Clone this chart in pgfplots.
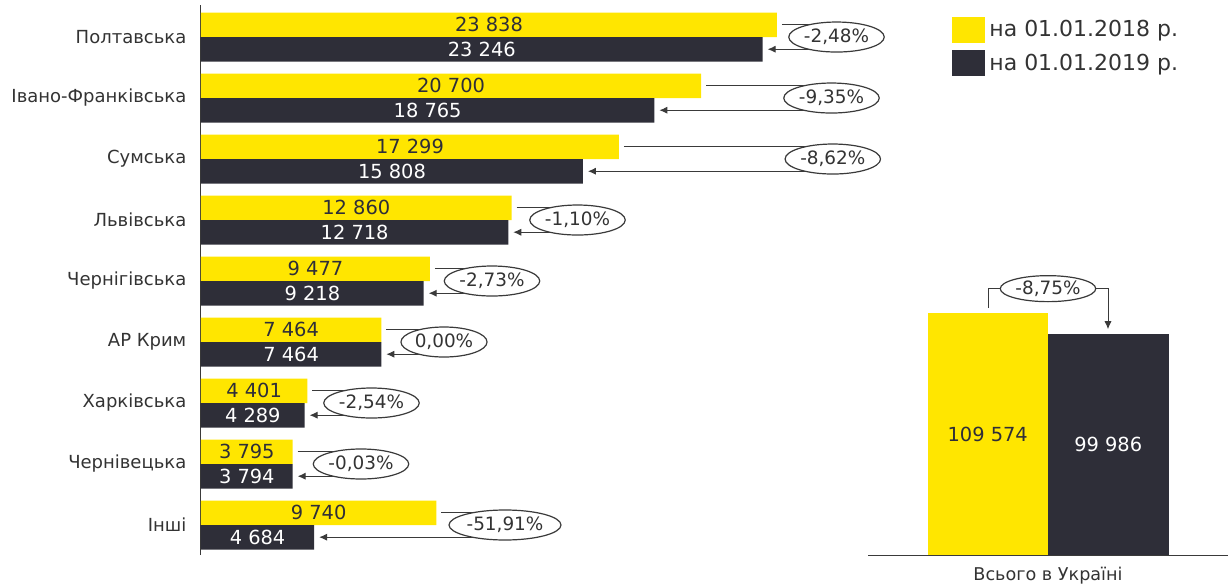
\documentclass[border=0pt]{standalone}
\usepackage{pgfplots}
\pgfplotsset{compat=1.18}
\usepackage{pgfplotstable}
\usepackage{fontspec}
\setmainfont{DejaVu Sans}
\usetikzlibrary{shapes.geometric, arrows.meta}
\definecolor{eyyellow}{HTML}{FFE600}
\definecolor{eydark}{HTML}{2E2E38}
\definecolor{txt}{HTML}{333333}
\definecolor{ln}{HTML}{3A3A3A}

\pgfplotstableread{
k a b
8 23838 23246
7 20700 18765
6 17299 15808
5 12860 12718
4 9477 9218
3 7464 7464
2 4401 4289
1 3795 3794
0 9740 4684
}\regions

\tikzset{
  pct/.style={ellipse, draw=ln, line width=0.6pt, fill=white, inner xsep=0.6pt, inner ysep=0pt,
    minimum height=15pt, font=\fontsize{9.2}{10}\selectfont, text=txt},
  cl/.style={draw=ln, line width=0.5pt},
  ca/.style={draw=ln, line width=0.5pt, -{Latex[length=4pt,width=3.6pt]}},
}
\newcommand\ann[7]{%
  \draw[cl] (axis cs:#2,#1) -- (axis cs:#4,#1);
  \draw[ca] (axis cs:#4,#6) -- (axis cs:#3,#6);
  \node[pct] at (axis cs:#4,#7) {#5};
}
\pgfplotsset{numfmt/.style={
  /pgf/number format/assume math mode=true,
  /pgf/number format/fixed,
  /pgf/number format/precision=0,
  /pgf/number format/1000 sep={\ },
}}

\begin{document}
\begin{tikzpicture}
\useasboundingbox (0,0) rectangle (615pt,293pt);
\begin{axis}[
  at={(100.5pt,15.5pt)}, anchor=south west,
  scale only axis, width=349.5pt, height=275pt,
  xmin=0, xmax=28932, ymin=-0.492, ymax=8.525,
  axis x line=none, axis y line=left,
  axis line style={-, draw=ln, line width=0.5pt},
  xtick=\empty, ytick={0,...,8},
  yticklabels={Інші, Чернівецька, Харківська, АР Крим, Чернігівська, Львівська, Сумська, Івано-Франківська, Полтавська},
  ytick style={draw=none},
  yticklabel style={font=\fontsize{9}{10}\selectfont, text=txt, inner sep=0pt, anchor=east, xshift=-5pt},
  clip=false, numfmt,
]
\addplot[xbar, bar width=12.25pt, bar shift=6.125pt, fill=eyyellow, draw=none] table[x=a, y=k]{\regions};
\addplot[xbar, bar width=12.25pt, bar shift=-6.125pt, fill=eydark, draw=none] table[x=b, y=k]{\regions};
\addplot[draw=none, mark=none, nodes near coords, point meta=explicit,
  every node near coord/.append style={anchor=center, yshift=6.125pt, font=\fontsize{9.7}{10}\selectfont, text=eydark}]
  table[x expr=\thisrow{a}/2, y=k, meta=a]{\regions};
\addplot[draw=none, mark=none, nodes near coords, point meta=explicit,
  every node near coord/.append style={anchor=center, yshift=-6.125pt, font=\fontsize{9.7}{10}\selectfont, text=white}]
  table[x expr=\thisrow{b}/2, y=k, meta=b]{\regions};
% change annotations: y-top, line start, arrow tip, ellipse x, text, y-bottom, y-centre
\ann{8.2}{24045}{23453}{26304}{-2,48\%}{7.8}{8}
\ann{7.2}{20907}{18972}{26097}{-9,35\%}{6.8}{7}
\ann{6.2}{17506}{16015}{26150}{-8,62\%}{5.8}{6}
\ann{5.2}{13067}{12925}{15584}{-1,10\%}{4.8}{5}
\ann{4.2}{9684}{9425}{12045}{-2,73\%}{3.8}{4}
\ann{3.2}{7671}{7671}{10058}{0,00\%}{2.8}{3}
\ann{2.2}{4608}{4496}{7057}{-2,54\%}{1.8}{2}
\ann{1.2}{4002}{4001}{6623}{-0,03\%}{0.8}{1}
\ann{0.2}{9947}{4891}{12583}{-51,91\%}{-0.2}{0}
\end{axis}

\begin{axis}[
  at={(434pt,15.5pt)}, anchor=south west,
  scale only axis, width=180pt, height=137.5pt,
  xmin=-1, xmax=1, ymin=0, ymax=124513,
  axis y line=none, axis x line=bottom,
  axis line style={-, draw=ln, line width=0.5pt},
  xtick={0}, xticklabels={Всього в Україні}, xtick style={draw=none},
  xticklabel style={font=\fontsize{8.8}{9}\selectfont, text=txt, yshift=-0.5pt},
  ytick=\empty, clip=false, numfmt,
  legend style={at={(0.2333,1.96)}, anchor=north west, draw=none, fill=none, inner sep=0pt,
    row sep=3pt, font=\fontsize{11}{12}\selectfont, text=txt},
  legend cell align=left,
  legend image code/.code={\fill[#1] (0pt,-6.5pt) rectangle (16.5pt,6.5pt);},
]
\addplot[ybar, bar width=60.25pt, bar shift=-30.125pt, fill=eyyellow, draw=none] coordinates {(0,109574)};
\addlegendentry{на 01.01.2018 р.}
\addplot[ybar, bar width=60.25pt, bar shift=30.125pt, fill=eydark, draw=none] coordinates {(0,99986)};
\addlegendentry{на 01.01.2019 р.}
\addplot[forget plot, draw=none, mark=none, nodes near coords, point meta=explicit,
  every node near coord/.append style={anchor=center, xshift=-30.125pt, font=\fontsize{9.7}{10}\selectfont, text=eydark}]
  table[row sep=\\, x=x, y expr=\thisrow{v}/2, meta=v]{x v\\ 0 109574\\};
\addplot[forget plot, draw=none, mark=none, nodes near coords, point meta=explicit,
  every node near coord/.append style={anchor=center, xshift=30.125pt, font=\fontsize{9.7}{10}\selectfont, text=white}]
  table[row sep=\\, x=x, y expr=\thisrow{v}/2, meta=v]{x v\\ 0 99986\\};
\draw[ca] (axis cs:-0.3333,111838) -- (axis cs:-0.3333,120600) -- (axis cs:0.3333,120600) -- (axis cs:0.3333,102250);
\node[pct, minimum height=13pt] at (axis cs:0,120600) {-8,75\%};
\end{axis}
\end{tikzpicture}
\end{document}
